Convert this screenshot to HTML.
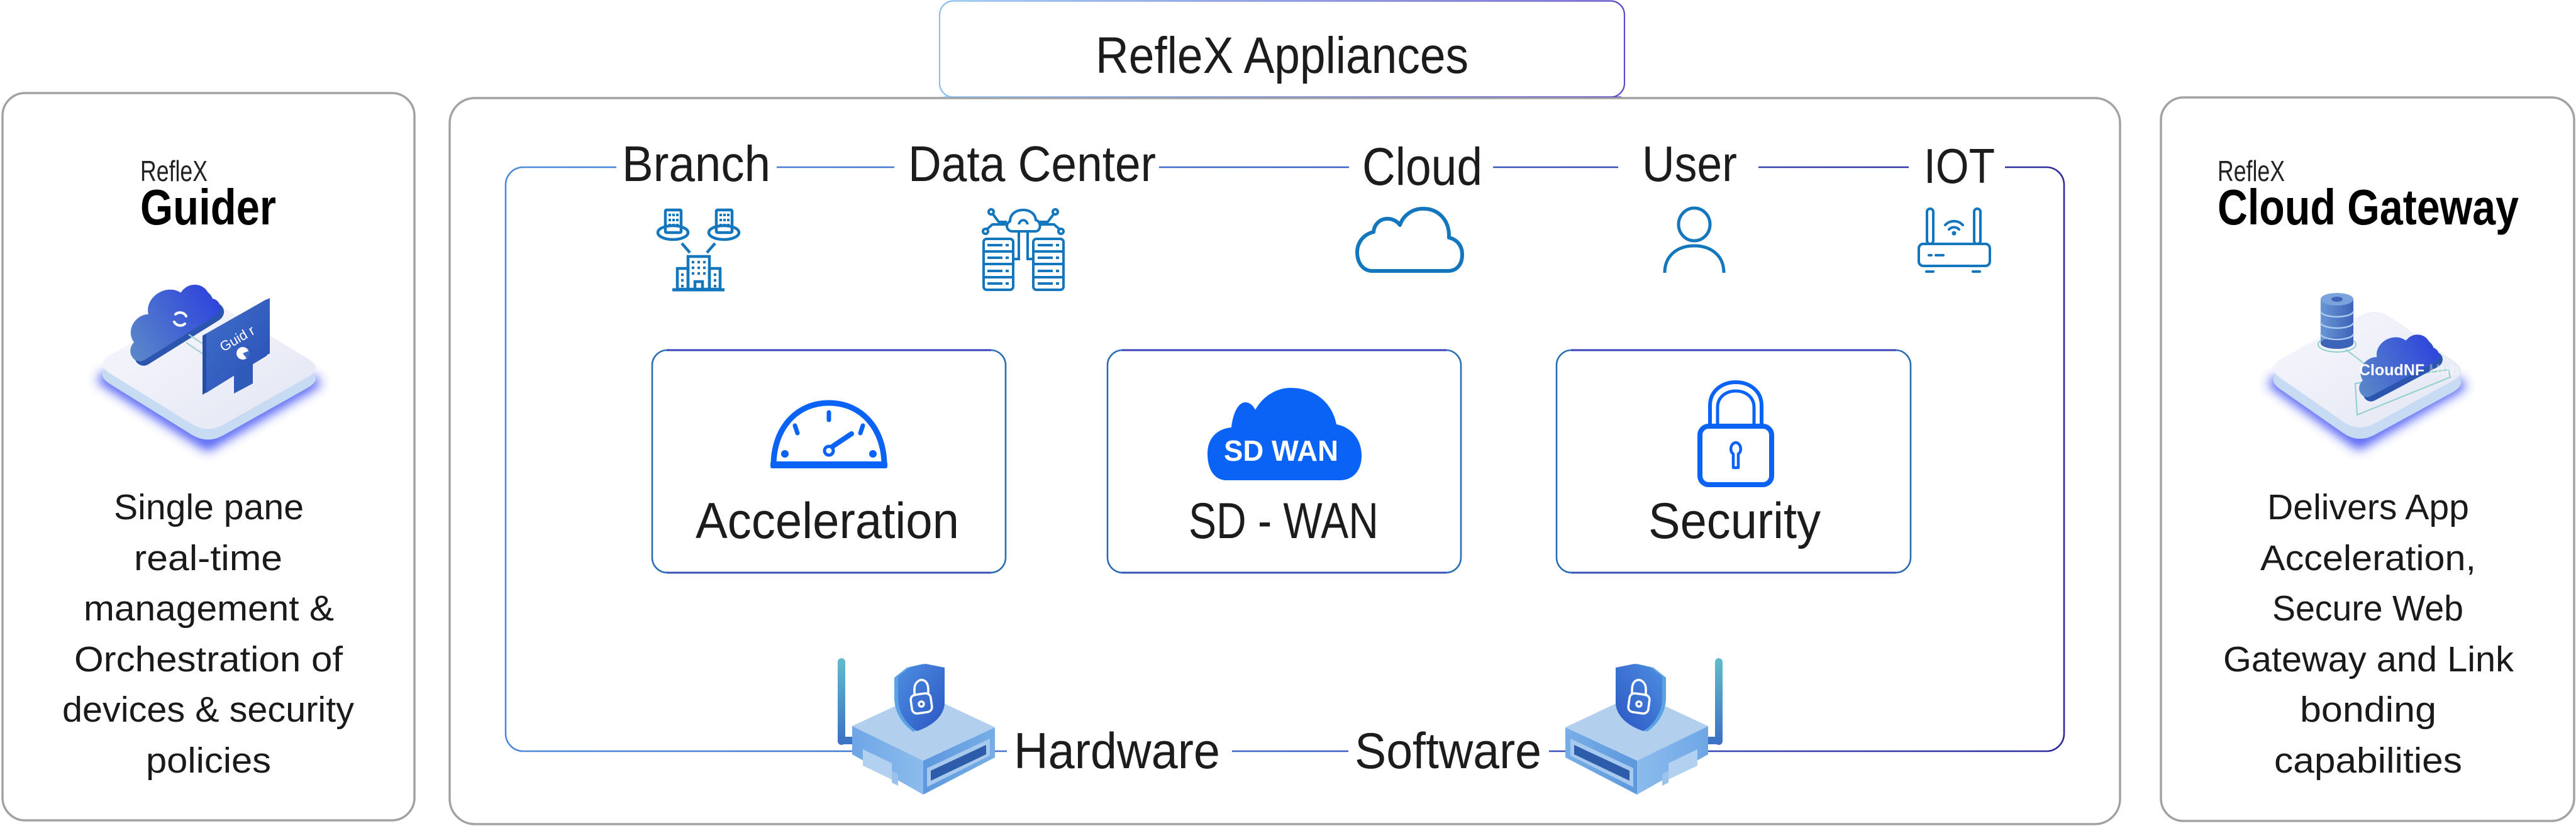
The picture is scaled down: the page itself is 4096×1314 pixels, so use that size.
<!DOCTYPE html>
<html>
<head>
<meta charset="utf-8">
<style>
  html,body{margin:0;padding:0;background:#fff;}
  svg{display:block;}
</style>
</head>
<body>
<svg xmlns="http://www.w3.org/2000/svg" width="4096" height="1314" viewBox="0 0 4096 1314" font-family="'Liberation Sans', Arial, sans-serif">
  <defs>
    <linearGradient id="frameG" gradientUnits="userSpaceOnUse" x1="804" y1="0" x2="3282" y2="0">
      <stop offset="0" stop-color="#4a8ad8"/>
      <stop offset="0.5" stop-color="#3d63c6"/>
      <stop offset="1" stop-color="#2e2a9e"/>
    </linearGradient>
    <linearGradient id="tabG" gradientUnits="userSpaceOnUse" x1="1493" y1="0" x2="2583" y2="0">
      <stop offset="0" stop-color="#8cc0ee"/>
      <stop offset="1" stop-color="#5a4cc6"/>
    </linearGradient>
    <linearGradient id="platG" x1="0" y1="0" x2="1" y2="1">
      <stop offset="0" stop-color="#f8f8fd"/>
      <stop offset="1" stop-color="#e2e5f3"/>
    </linearGradient>
    <linearGradient id="cloudG" x1="0" y1="0" x2="1" y2="0">
      <stop offset="0" stop-color="#5a88c8"/>
      <stop offset="1" stop-color="#2f45dc"/>
    </linearGradient>
    <linearGradient id="monG" x1="0" y1="0" x2="1" y2="1">
      <stop offset="0" stop-color="#3f6fc8"/>
      <stop offset="1" stop-color="#2a4fb8"/>
    </linearGradient>
    <linearGradient id="antG" x1="0" y1="0" x2="0" y2="1">
      <stop offset="0" stop-color="#62bccb"/>
      <stop offset="1" stop-color="#3b6fc4"/>
    </linearGradient>
    <linearGradient id="shieldG" x1="0" y1="0" x2="1" y2="1">
      <stop offset="0" stop-color="#4d8ee0"/>
      <stop offset="1" stop-color="#2c56c4"/>
    </linearGradient>
    <linearGradient id="leftFaceG" x1="0" y1="0" x2="1" y2="0">
      <stop offset="0" stop-color="#6ea6e6"/>
      <stop offset="1" stop-color="#8cbcec"/>
    </linearGradient>
    <linearGradient id="rightFaceG" x1="0" y1="0" x2="1" y2="0">
      <stop offset="0" stop-color="#5d98de"/>
      <stop offset="1" stop-color="#78aee6"/>
    </linearGradient>
    <linearGradient id="dbG" x1="0" y1="0" x2="1" y2="0">
      <stop offset="0" stop-color="#6a95d4"/>
      <stop offset="1" stop-color="#3d64b8"/>
    </linearGradient>
    <filter id="blur" x="-50%" y="-50%" width="200%" height="200%">
      <feGaussianBlur stdDeviation="9"/>
    </filter>

    <g id="router">
      <rect x="1332" y="1047" width="12" height="138" rx="6" fill="url(#antG)"/>
      <rect x="1338" y="1172" width="20" height="12" rx="4" fill="#3f73c4"/>
      <polygon points="1355,1155 1468,1210 1468,1264 1355,1200" fill="url(#leftFaceG)"/>
      <polygon points="1372,1192 1418,1214 1418,1240 1372,1218" fill="#b2d0f0"/>
      <polygon points="1418,1226 1428,1231 1428,1250 1418,1245" fill="#9cc2ec"/>
      <polygon points="1468,1210 1582,1157 1582,1205 1468,1264" fill="url(#rightFaceG)"/>
      <polygon points="1474,1222 1574,1175 1574,1202 1474,1252" fill="#a8c9ee"/>
      <polygon points="1480,1226 1568,1185 1568,1200 1480,1242" fill="#2d5cab"/>
      <polygon points="1355,1155 1467,1103 1582,1157 1468,1210" fill="#b2cfee"/>
      <path d="M1422,1078 L1442,1062 L1468,1056 L1496,1063 L1496,1120 C1494,1140 1476,1155 1452,1164 C1432,1150 1422,1130 1422,1110 Z" fill="#5aa2e4"/>
      <path d="M1428,1076 L1448,1061 L1472,1056 L1502,1062 L1502,1120 C1500,1140 1482,1155 1458,1163 C1438,1150 1428,1130 1428,1110 Z" fill="url(#shieldG)"/>
      <g fill="none" stroke="#fff" stroke-width="3.5" stroke-linecap="round">
        <path d="M1454,1106 L1454,1096 C1454,1086 1462,1080 1468,1082 C1474,1084 1476,1090 1476,1098 L1476,1104"/>
        <rect x="1449" y="1104" width="32" height="30" rx="8" transform="rotate(-8 1465 1119)"/>
        <circle cx="1465" cy="1120" r="4"/>
      </g>
    </g>
  </defs>

  <rect width="4096" height="1314" fill="#fff"/>

  <rect x="1494" y="1.5" width="1089" height="153" rx="22" fill="#fff" stroke="url(#tabG)" stroke-width="2.2"/>

  <rect x="4" y="148" width="655" height="1157" rx="36" fill="none" stroke="#a2a2a2" stroke-width="3.5"/>
  <rect x="715" y="156" width="2656" height="1155" rx="40" fill="none" stroke="#a2a2a2" stroke-width="3.5"/>
  <rect x="3436" y="155" width="657" height="1151" rx="36" fill="none" stroke="#a2a2a2" stroke-width="3.5"/>

  <line x1="1500" y1="154" x2="2578" y2="154" stroke="url(#tabG)" stroke-width="1.5" opacity="0.8"/>

  <text x="1742" y="116" font-size="82" fill="#1c1c1c" textLength="593" lengthAdjust="spacingAndGlyphs">RefleX Appliances</text>

  <rect x="804" y="266" width="2478" height="929" rx="28" fill="none" stroke="url(#frameG)" stroke-width="2.6"/>
  <g fill="#fff">
    <rect x="980" y="256" width="255" height="20"/>
    <rect x="1422" y="256" width="421" height="20"/>
    <rect x="2145" y="256" width="229" height="20"/>
    <rect x="2573" y="256" width="223" height="20"/>
    <rect x="3035" y="256" width="153" height="20"/>
    <rect x="1601" y="1185" width="358" height="20"/>
    <rect x="2144" y="1185" width="319" height="20"/>
  </g>

  <g fill="#1c1c1c">
    <text x="989" y="288" font-size="80" textLength="236" lengthAdjust="spacingAndGlyphs">Branch</text>
    <text x="1444" y="288" font-size="80" textLength="394" lengthAdjust="spacingAndGlyphs">Data Center</text>
    <text x="2166" y="294" font-size="84" textLength="191" lengthAdjust="spacingAndGlyphs">Cloud</text>
    <text x="2611" y="288" font-size="80" textLength="151" lengthAdjust="spacingAndGlyphs">User</text>
    <text x="3059" y="291" font-size="78" textLength="113" lengthAdjust="spacingAndGlyphs">IOT</text>
  </g>

  <g stroke="#1476bd" fill="none" stroke-width="4.5">
    <rect x="1058" y="334" width="25" height="36" rx="2"/>
    <ellipse cx="1070" cy="370" rx="24" ry="11"/>
    <rect x="1139" y="334" width="25" height="36" rx="2"/>
    <ellipse cx="1151" cy="370" rx="24" ry="11"/>
    <line x1="1084" y1="387" x2="1097" y2="402"/>
    <line x1="1137" y1="387" x2="1124" y2="402"/>
    <rect x="1094" y="408" width="34" height="52"/>
    <rect x="1077" y="427" width="17" height="33"/>
    <rect x="1128" y="427" width="17" height="33"/>
    <line x1="1069" y1="461" x2="1152" y2="461" stroke-width="5"/>
    <rect x="1105" y="448" width="12" height="13"/>
  </g>
  <g fill="#1476bd">
    <rect x="1063" y="340" width="4" height="4"/><rect x="1069" y="340" width="4" height="4"/><rect x="1075" y="340" width="4" height="4"/>
    <rect x="1063" y="348" width="4" height="4"/><rect x="1069" y="348" width="4" height="4"/><rect x="1075" y="348" width="4" height="4"/>
    <rect x="1063" y="356" width="4" height="4"/><rect x="1069" y="356" width="4" height="4"/><rect x="1075" y="356" width="4" height="4"/>
    <rect x="1144" y="340" width="4" height="4"/><rect x="1150" y="340" width="4" height="4"/><rect x="1156" y="340" width="4" height="4"/>
    <rect x="1144" y="348" width="4" height="4"/><rect x="1150" y="348" width="4" height="4"/><rect x="1156" y="348" width="4" height="4"/>
    <rect x="1144" y="356" width="4" height="4"/><rect x="1150" y="356" width="4" height="4"/><rect x="1156" y="356" width="4" height="4"/>
    <rect x="1100" y="415" width="4" height="4"/><rect x="1109" y="415" width="4" height="4"/><rect x="1118" y="415" width="4" height="4"/>
    <rect x="1100" y="424" width="4" height="4"/><rect x="1109" y="424" width="4" height="4"/><rect x="1118" y="424" width="4" height="4"/>
    <rect x="1100" y="433" width="4" height="4"/><rect x="1109" y="433" width="4" height="4"/><rect x="1118" y="433" width="4" height="4"/>
    <rect x="1083" y="435" width="4" height="4"/><rect x="1083" y="444" width="4" height="4"/><rect x="1083" y="453" width="4" height="4"/>
    <rect x="1135" y="435" width="4" height="4"/><rect x="1135" y="444" width="4" height="4"/><rect x="1135" y="453" width="4" height="4"/>
  </g>

  <g stroke="#1476bd" fill="none" stroke-width="4">
    <rect x="1564" y="380" width="47" height="81" rx="5"/>
    <rect x="1643" y="380" width="48" height="81" rx="5"/>
    <line x1="1564" y1="400" x2="1611" y2="400"/><line x1="1564" y1="420" x2="1611" y2="420"/><line x1="1564" y1="441" x2="1611" y2="441"/>
    <line x1="1643" y1="400" x2="1691" y2="400"/><line x1="1643" y1="420" x2="1691" y2="420"/><line x1="1643" y1="441" x2="1691" y2="441"/>
    <path d="M1610,368 C1600,368 1598,356 1606,352 C1606,340 1616,334 1627,334 C1638,334 1646,340 1647,350 C1656,352 1656,368 1646,368 Z"/>
    <path d="M1620,357 C1622,348 1632,348 1634,357"/>
    <path d="M1620,368 V412 H1611"/>
    <path d="M1634,368 V412 H1643"/>
    <circle cx="1576" cy="337" r="4"/>
    <path d="M1579,341 L1588,353 H1601"/>
    <circle cx="1567" cy="368" r="4"/>
    <path d="M1570,364 L1578,357 H1601"/>
    <circle cx="1678" cy="337" r="4"/>
    <path d="M1675,341 L1666,353 H1653"/>
    <circle cx="1687" cy="368" r="4"/>
    <path d="M1684,364 L1676,357 H1653"/>
  </g>
  <g fill="#1476bd">
    <rect x="1570" y="388" width="24" height="4"/><rect x="1599" y="388" width="5" height="4"/>
    <rect x="1570" y="408" width="24" height="4"/><rect x="1599" y="408" width="5" height="4"/>
    <rect x="1570" y="429" width="24" height="4"/><rect x="1599" y="429" width="5" height="4"/>
    <rect x="1570" y="449" width="24" height="4"/><rect x="1599" y="449" width="5" height="4"/>
    <rect x="1650" y="388" width="24" height="4"/><rect x="1679" y="388" width="5" height="4"/>
    <rect x="1650" y="408" width="24" height="4"/><rect x="1679" y="408" width="5" height="4"/>
    <rect x="1650" y="429" width="24" height="4"/><rect x="1679" y="429" width="5" height="4"/>
    <rect x="1650" y="449" width="24" height="4"/><rect x="1679" y="449" width="5" height="4"/>
  </g>

  <path d="M2182,431 H2302 C2318,431 2325,419 2325,405 C2325,391 2317,381 2304,378 C2305,350 2287,332 2263,332 C2245,332 2231,343 2226,358 C2221,351 2213,348 2206,348 C2194,348 2185,357 2184,369 C2167,373 2158,387 2158,401 C2158,419 2168,431 2182,431 Z" fill="none" stroke="#1476bd" stroke-width="6" stroke-linejoin="round"/>

  <g fill="none" stroke="#1476bd" stroke-width="5">
    <ellipse cx="2694" cy="357" rx="25" ry="26"/>
    <path d="M2647,434 C2647,406 2668,391 2694,391 C2720,391 2741,406 2741,434"/>
  </g>

  <g fill="none" stroke="#1476bd" stroke-width="4" stroke-linecap="round">
    <rect x="3064" y="332" width="10" height="56" rx="5"/>
    <rect x="3139" y="332" width="10" height="56" rx="5"/>
    <rect x="3051" y="388" width="113" height="35" rx="7"/>
    <line x1="3067" y1="406" x2="3071" y2="406"/>
    <line x1="3078" y1="406" x2="3090" y2="406"/>
    <line x1="3063" y1="432" x2="3074" y2="432"/>
    <line x1="3137" y1="432" x2="3148" y2="432"/>
    <path d="M3099,365 A11,11 0 0 1 3115,365"/>
    <path d="M3093,358 A19,19 0 0 1 3121,358"/>
  </g>
  <circle cx="3107" cy="371" r="3.5" fill="#1476bd"/>

  <g fill="#fff" stroke="#2a6cb2" stroke-width="2.6">
    <rect x="1037" y="557" width="562" height="354" rx="24"/>
    <rect x="1761" y="557" width="562" height="354" rx="24"/>
    <rect x="2475" y="557" width="563" height="354" rx="24"/>
  </g>
  <g stroke="#3a40b8" stroke-width="3">
    <line x1="1060" y1="557" x2="1576" y2="557"/>
    <line x1="1784" y1="557" x2="2300" y2="557"/>
    <line x1="2498" y1="557" x2="3015" y2="557"/>
    <line x1="1060" y1="911" x2="1576" y2="911" stroke="#3650b8"/>
    <line x1="1784" y1="911" x2="2300" y2="911" stroke="#3650b8"/>
    <line x1="2498" y1="911" x2="3015" y2="911" stroke="#3650b8"/>
  </g>

  <g stroke="#0b63f6" fill="none" stroke-linecap="round">
    <path d="M1230,740 C1230,682 1266,641 1318,641 C1370,641 1406,682 1406,740 Z" stroke-width="9" stroke-linejoin="round"/>
    <line x1="1318" y1="656" x2="1318" y2="668" stroke-width="7"/>
    <line x1="1264" y1="677" x2="1268" y2="689" stroke-width="7"/>
    <line x1="1372" y1="677" x2="1368" y2="689" stroke-width="7"/>
    <circle cx="1318" cy="717" r="7" stroke-width="5"/>
    <line x1="1324" y1="710" x2="1354" y2="690" stroke-width="8"/>
  </g>
  <rect x="1225" y="734" width="186" height="11" rx="3" fill="#0b63f6"/>
  <circle cx="1248" cy="722" r="6" fill="#0b63f6"/>
  <circle cx="1388" cy="722" r="6" fill="#0b63f6"/>

  <path d="M1950,764 C1932,764 1920,748 1920,722 C1920,697 1935,682 1958,680 C1960,660 1968,640 1980,640 C1988,640 1993,646 1996,652 C2008,630 2030,617 2052,617 C2090,617 2118,640 2125,675 C2150,680 2165,700 2165,725 C2165,748 2152,764 2130,764 Z" fill="#0b63f6"/>
  <text x="1946" y="733" font-size="46" font-weight="bold" fill="#fff" textLength="182" lengthAdjust="spacingAndGlyphs">SD WAN</text>

  <g fill="none" stroke="#0b63f6" stroke-linecap="round">
    <path d="M2719,678 V645 C2719,622 2738,608 2760,608 C2782,608 2801,622 2801,645 V678" stroke-width="6"/>
    <path d="M2731,678 V648 C2731,632 2744,622 2760,622 C2776,622 2789,632 2789,648 V678" stroke-width="5"/>
    <rect x="2703" y="678" width="114" height="93" rx="14" stroke-width="8" fill="#fff"/>
    <path d="M2756,744 V722 C2750,719 2751,705 2760,704 C2769,705 2770,719 2764,722 V744 Z" stroke-width="4.5" stroke-linejoin="round"/>
  </g>

  <g fill="#1c1c1c" font-size="81">
    <text x="1106" y="856" textLength="419" lengthAdjust="spacingAndGlyphs">Acceleration</text>
    <text x="1890" y="856" textLength="302" lengthAdjust="spacingAndGlyphs">SD - WAN</text>
    <text x="2621" y="856" textLength="274" lengthAdjust="spacingAndGlyphs">Security</text>
  </g>

  <use href="#router"/>
  <use href="#router" transform="translate(4071,0) scale(-1,1)"/>

  <g fill="#1c1c1c" font-size="81">
    <text x="1612" y="1222" textLength="328" lengthAdjust="spacingAndGlyphs">Hardware</text>
    <text x="2154" y="1222" textLength="297" lengthAdjust="spacingAndGlyphs">Software</text>
  </g>

  <text x="223" y="288" font-size="46" fill="#222" textLength="107" lengthAdjust="spacingAndGlyphs">RefleX</text>
  <text x="223" y="357" font-size="80" font-weight="bold" fill="#000" textLength="216" lengthAdjust="spacingAndGlyphs">Guider</text>

  <g>
    <path d="M160,598 L330,706 L505,604" fill="none" stroke="#2f3ff2" stroke-width="20" filter="url(#blur)" opacity="0.9"/>
    <path d="M176,580 L308,509 Q335,495 361,510 L489,587 Q515,602 489,617 L356,692 Q330,707 304,691 L175,611 Q150,595 176,580 Z" fill="#c7dbf3"/>
    <path d="M176,564 L308,492 Q335,478 361,493 L489,570 Q515,585 489,600 L356,675 Q330,690 304,674 L175,594 Q150,578 176,564 Z" fill="url(#platG)"/>
    <path d="M-78,38 C-100,38 -102,6 -78,0 C-80,-28 -48,-42 -28,-30 C-18,-60 30,-62 44,-32 C68,-44 96,-22 84,6 C100,14 96,38 74,38 Z" transform="translate(276,516) rotate(-32) scale(0.86)" fill="#2b55ae"/>
    <path d="M-78,38 C-100,38 -102,6 -78,0 C-80,-28 -48,-42 -28,-30 C-18,-60 30,-62 44,-32 C68,-44 96,-22 84,6 C100,14 96,38 74,38 Z" transform="translate(270,509) rotate(-32) scale(0.86)" fill="url(#cloudG)"/>
    <g fill="none" stroke="#fff" stroke-width="4" stroke-linecap="round">
      <path d="M279,500 A11,11 0 0 1 296,503"/>
      <path d="M294,515 A11,11 0 0 1 277,512"/>
    </g>
    <line x1="300" y1="532" x2="330" y2="552" stroke="#9fd0cf" stroke-width="2"/>
    <line x1="296" y1="545" x2="330" y2="568" stroke="#9fd0cf" stroke-width="2"/>
    <polygon points="372,590 402,574 402,610 372,626" fill="#2f5bb8"/>
    <polygon points="322,534 424,476 424,566 322,628" fill="#274da6"/>
    <polygon points="328,531 429,474 429,562 328,625" fill="url(#monG)"/>
    <text x="355" y="560" font-size="22" fill="#fff" transform="rotate(-30 355 560)">Guid r</text>
    <circle cx="386" cy="562" r="10" fill="#fff"/>
    <path d="M386,562 L396,558 A10,10 0 0 1 392,570 Z" fill="#3d6cc4"/>
  </g>

  <g fill="#1a1a1a" font-size="57">
    <text x="181" y="826" textLength="302" lengthAdjust="spacingAndGlyphs">Single pane</text>
    <text x="213" y="907" textLength="236" lengthAdjust="spacingAndGlyphs">real-time</text>
    <text x="133" y="987" textLength="398" lengthAdjust="spacingAndGlyphs">management &amp;</text>
    <text x="118" y="1068" textLength="427" lengthAdjust="spacingAndGlyphs">Orchestration of</text>
    <text x="99" y="1148" textLength="464" lengthAdjust="spacingAndGlyphs">devices &amp; security</text>
    <text x="232" y="1229" textLength="199" lengthAdjust="spacingAndGlyphs">policies</text>
  </g>

  <text x="3526" y="288" font-size="46" fill="#222" textLength="107" lengthAdjust="spacingAndGlyphs">RefleX</text>
  <text x="3526" y="357" font-size="80" font-weight="bold" fill="#000" textLength="479" lengthAdjust="spacingAndGlyphs">Cloud Gateway</text>

  <g>
    <path d="M3612,604 L3751,704 L3916,608" fill="none" stroke="#2f3ff2" stroke-width="20" filter="url(#blur)" opacity="0.9"/>
    <path d="M3628,588 L3751,520 Q3777,506 3802,523 L3901,592 Q3926,609 3900,624 L3777,691 Q3751,706 3726,689 L3627,620 Q3602,603 3628,588 Z" fill="#c7dbf3"/>
    <path d="M3628,570 L3751,503 Q3777,488 3802,505 L3901,574 Q3926,591 3900,606 L3777,673 Q3751,688 3726,671 L3627,602 Q3602,585 3628,570 Z" fill="url(#platG)"/>
    <ellipse cx="3716" cy="548" rx="30" ry="12" fill="none" stroke="#8fd0cc" stroke-width="2"/>
    <rect x="3690" y="476" width="52" height="70" fill="url(#dbG)"/>
    <ellipse cx="3716" cy="546" rx="26" ry="9" fill="#3d64b8"/>
    <g fill="none" stroke="#a9c8ee" stroke-width="2.5">
      <path d="M3690,495 A26,9 0 0 0 3742,495"/>
      <path d="M3690,513 A26,9 0 0 0 3742,513"/>
      <path d="M3690,531 A26,9 0 0 0 3742,531"/>
    </g>
    <ellipse cx="3716" cy="476" rx="26" ry="10" fill="#7aa3dc"/>
    <ellipse cx="3716" cy="476" rx="9" ry="4" fill="#3d64b8"/>
    <line x1="3730" y1="556" x2="3764" y2="582" stroke="#8fd0cc" stroke-width="2"/>
    <polygon points="3745,610 3893,588 3896,600 3748,660" fill="none" stroke="#8fd0cc" stroke-width="2"/>
    <path d="M-78,38 C-100,38 -102,6 -78,0 C-80,-28 -48,-42 -28,-30 C-18,-60 30,-62 44,-32 C68,-44 96,-22 84,6 C100,14 96,38 74,38 Z" transform="translate(3814,585) rotate(-28) scale(0.74)" fill="#2b55ae"/>
    <path d="M-78,38 C-100,38 -102,6 -78,0 C-80,-28 -48,-42 -28,-30 C-18,-60 30,-62 44,-32 C68,-44 96,-22 84,6 C100,14 96,38 74,38 Z" transform="translate(3808,578) rotate(-28) scale(0.74)" fill="url(#cloudG)"/>
    <text x="3751" y="597" font-size="25" font-weight="bold" fill="#fff">CloudNF<tspan fill-opacity="0.35"> Hub</tspan></text>
  </g>

  <g fill="#1a1a1a" font-size="57">
    <text x="3605" y="826" textLength="321" lengthAdjust="spacingAndGlyphs">Delivers App</text>
    <text x="3594" y="907" textLength="343" lengthAdjust="spacingAndGlyphs">Acceleration,</text>
    <text x="3613" y="987" textLength="304" lengthAdjust="spacingAndGlyphs">Secure Web</text>
    <text x="3535" y="1068" textLength="462" lengthAdjust="spacingAndGlyphs">Gateway and Link</text>
    <text x="3657" y="1148" textLength="217" lengthAdjust="spacingAndGlyphs">bonding</text>
    <text x="3616" y="1229" textLength="299" lengthAdjust="spacingAndGlyphs">capabilities</text>
  </g>
</svg>
</body>
</html>
